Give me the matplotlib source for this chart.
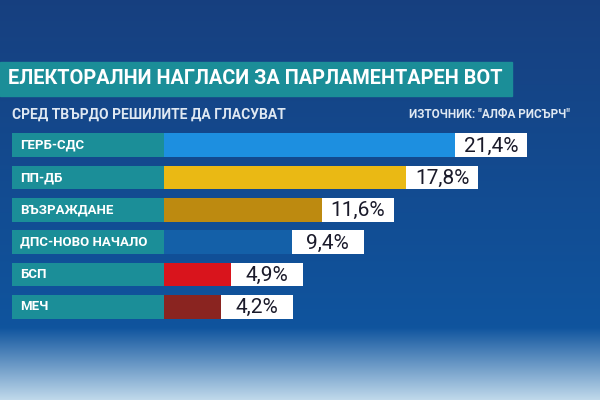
import matplotlib
matplotlib.use("Agg")
import matplotlib.pyplot as plt
import numpy as np

parties = ["ГЕРБ-СДС", "ПП-ДБ", "ВЪЗРАЖДАНЕ", "ДПС-НОВО НАЧАЛО", "БСП", "МЕЧ"]
values = [21.4, 17.8, 11.6, 9.4, 4.9, 4.2]
labels = ["21,4%", "17,8%", "11,6%", "9,4%", "4,9%", "4,2%"]
colors = ["#1d8fe0", "#eab914", "#bd8a10", "#1460a8", "#d9141c", "#8a2420"]
title = "ЕЛЕКТОРАЛНИ НАГЛАСИ ЗА ПАРЛАМЕНТАРЕН ВОТ"
subtitle = "СРЕД ТВЪРДО РЕШИЛИТЕ ДА ГЛАСУВАТ"
source = "ИЗТОЧНИК: \"АЛФА РИСЪРЧ\""

plt.rcParams['font.family'] = ['Roboto', 'DejaVu Sans']
fig = plt.figure(figsize=(6, 4), dpi=100)

# background
bg = fig.add_axes([0, 0, 1, 1])
top = np.array([0.09, 0.25, 0.50]); mid = np.array([0.06, 0.33, 0.62]); bot = np.array([0.75, 0.85, 0.92])
img = np.zeros((400, 600, 3))
for i in range(400):
    t = i / 399
    if t < 0.82:
        c = top + (mid - top) * (t / 0.82)
    else:
        c = mid + (bot - mid) * ((t - 0.82) / 0.18)
    img[i, :, :] = c
bg.imshow(img, extent=[0, 600, 400, 0], aspect='auto')
bg.set_xlim(0, 600); bg.set_ylim(400, 0); bg.axis('off')
bg.add_patch(plt.Rectangle((0, 62), 512, 34, color="#1b8e98"))
bg.text(8, 79, title, color="white", fontsize=14.3, fontweight='bold', va='center', ha='left')
bg.text(12, 115, subtitle, color="#dfe8f2", fontsize=10, fontweight='bold', va='center')
bg.text(570, 115, source, color="#dfe8f2", fontsize=8.5, fontweight='bold', va='center', ha='right')

# data axes
scale = 13.6  # px per unit
ax = fig.add_axes([12 / 600, 1 - 323 / 400, 588 / 600, 194 / 400])
ax.set_xlim(-152 / scale, 436 / scale)
ax.set_ylim(len(parties) - 0.5, -0.5)
ax.axis('off')
y = np.arange(len(parties))
ax.barh(y, [152 / scale] * len(parties), left=-152 / scale, height=0.74, color="#1b8e98")
ax.barh(y, values, height=0.74, color=colors)
for yi, p, v, l in zip(y, parties, values, labels):
    ax.text(-152 / scale + 0.6, yi, p, color="white", fontsize=9.5, fontweight='bold', va='center')
    ax.barh(yi, 72 / scale, left=v, height=0.74, color="white")
    ax.text(v + 36 / scale, yi + 0.03, l, color="#1a1a2a", fontsize=15, va='center', ha='center')

fig.savefig("out.png", dpi=100)
